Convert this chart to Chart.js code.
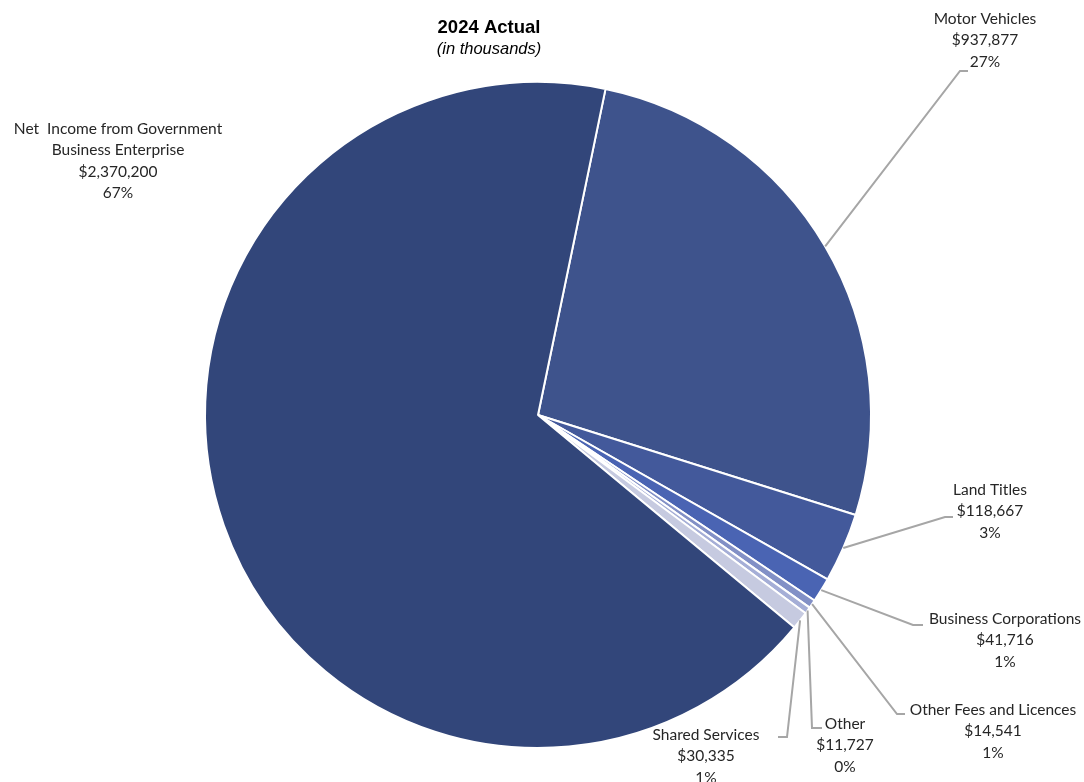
<!DOCTYPE html>
<html>
<head>
<meta charset="utf-8">
<script src="https://cdn.jsdelivr.net/npm/chart.js@4.4.1/dist/chart.umd.min.js"></script>
<style>
  html, body { margin: 0; padding: 0; background: #fff; }
  #wrap { width: 1084px; height: 782px; position: relative; }
</style>
</head>
<body>
<div id="wrap"><canvas id="pie"></canvas></div>
<script>
const categories = [
  "Motor Vehicles",
  "Land Titles",
  "Business Corporations",
  "Other Fees and Licences",
  "Other",
  "Shared Services",
  "Net Income from Government Business Enterprise",
];
const amounts = [937877, 118667, 41716, 14541, 11727, 30335, 2370200];
const percentLabels = ["27%", "3%", "1%", "1%", "0%", "1%", "67%"];
const nameLines = [
  ["Motor Vehicles"],
  ["Land Titles"],
  ["Business Corporations"],
  ["Other Fees and Licences"],
  ["Other"],
  ["Shared Services"],
  ["Net  Income from Government", "Business Enterprise"],
];
const sliceColors = ["#3e538c", "#43599b", "#4a64b3", "#8290c6", "#a5aed6", "#c6cae0", "#32467a"];

// label placement relative to the pie centre (text centre x, first line y, leader elbow/end)
const labelLayout = [
  { tx: 447, ty: -396, elbow: [422, -344], end: [430, -344] },
  { tx: 452, ty: 75, elbow: [407, 102], end: [415, 102] },
  { tx: 467, ty: 204, elbow: [375, 210], end: [385, 210] },
  { tx: 455, ty: 295, elbow: [359, 299], end: [367, 299] },
  { tx: 307, ty: 309, elbow: [274, 313], end: [284, 313] },
  { tx: 168, ty: 320, elbow: [249, 322], end: [240, 322] },
  { tx: -420, ty: -286, elbow: null, end: null },
];

const labelFont = "15.5px Lato, 'Open Sans', sans-serif";

const leaderLabels = {
  id: "leaderLabels",
  afterDatasetsDraw(chart) {
    const ctx = chart.ctx;
    const arcs = chart.getDatasetMeta(0).data;
    ctx.save();
    arcs.forEach((arc, i) => {
      const p = arc.getProps(["x", "y", "startAngle", "endAngle", "outerRadius"], true);
      const mid = (p.startAngle + p.endAngle) / 2;
      const lay = labelLayout[i];
      if (lay.elbow) {
        const sx = p.x + Math.cos(mid) * p.outerRadius;
        const sy = p.y + Math.sin(mid) * p.outerRadius;
        ctx.strokeStyle = "#a6a6a6";
        ctx.lineWidth = 2;
        ctx.beginPath();
        ctx.moveTo(sx, sy);
        ctx.lineTo(p.x + lay.elbow[0], p.y + lay.elbow[1]);
        ctx.lineTo(p.x + lay.end[0], p.y + lay.end[1]);
        ctx.stroke();
      }
      const lines = nameLines[i].concat(["$" + amounts[i].toLocaleString("en-US"), percentLabels[i]]);
      ctx.fillStyle = "#262626";
      ctx.font = labelFont;
      ctx.textAlign = "center";
      ctx.textBaseline = "middle";
      lines.forEach((t, k) => {
        ctx.fillText(t, p.x + lay.tx, p.y + lay.ty + k * 21.3);
      });
    });

    // title
    ctx.fillStyle = "#000";
    ctx.textAlign = "center";
    ctx.textBaseline = "middle";
    ctx.font = "bold 18.5px 'Liberation Sans', Arial, sans-serif";
    ctx.fillText("2024 Actual", 489, 28);
    ctx.font = "italic 16.5px 'Liberation Sans', Arial, sans-serif";
    ctx.fillText("(in thousands)", 489, 49);
    ctx.restore();
  },
};

new Chart(document.getElementById("pie"), {
  type: "pie",
  plugins: [leaderLabels],
  data: {
    labels: categories,
    datasets: [
      {
        data: amounts,
        backgroundColor: sliceColors,
        borderColor: "#ffffff",
        borderWidth: 2,
      },
    ],
  },
  options: {
    responsive: true,
    maintainAspectRatio: false,
    animation: false,
    rotation: 11.7,
    layout: { padding: { top: 81, bottom: 33, left: 100, right: 108 } },
    plugins: {
      legend: { display: false },
      tooltip: { enabled: false },
      title: { display: false },
    },
  },
});
</script>
</body>
</html>
